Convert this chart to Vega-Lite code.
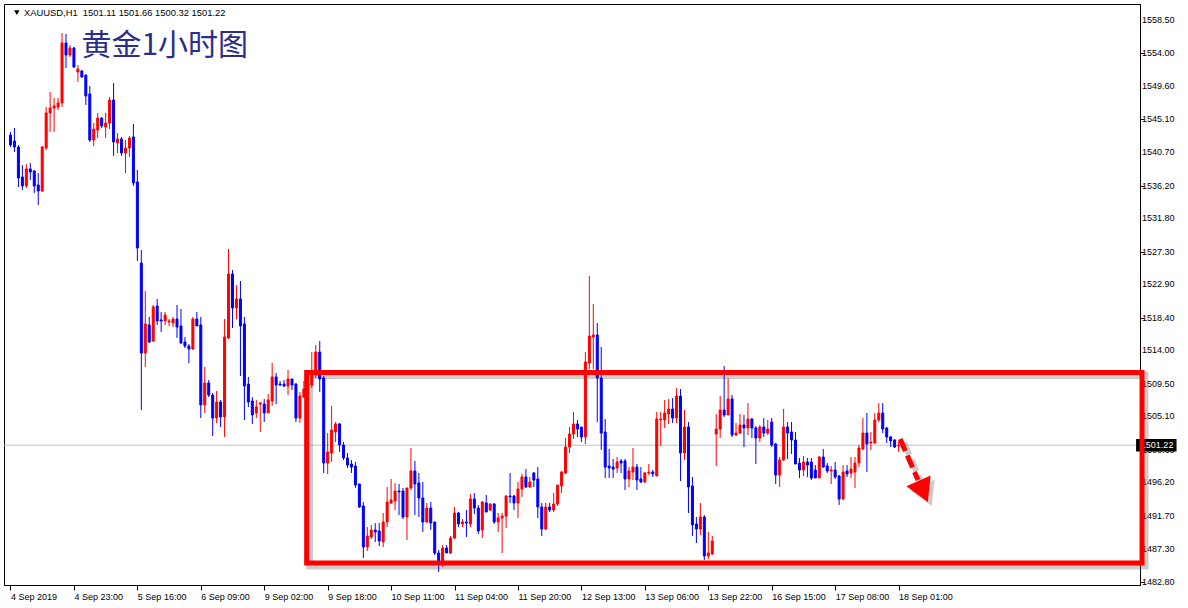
{
  "$schema": "https://vega.github.io/schema/vega-lite/v6.json",
  "width": 1136,
  "height": 581,
  "autosize": {"type": "none"},
  "padding": {"left": 4, "top": 4, "right": 48, "bottom": 23},
  "background": "#FFFFFF",
  "config": {
    "view": {"stroke": "#000000", "strokeWidth": 1},
    "axis": {"labelFont": "Liberation Sans", "labelFontSize": 9, "labelColor": "#000000", "tickColor": "#000000", "domainColor": "#000000", "grid": false}
  },
  "datasets": {
    "priceLabels": [
      {"v":1558.5},{"v":1554.0},{"v":1549.6},{"v":1545.1},{"v":1540.7},{"v":1536.2},{"v":1531.8},{"v":1527.3},{"v":1522.9},{"v":1518.4},{"v":1514.0},{"v":1509.5},{"v":1505.1},{"v":1500.6},{"v":1496.2},{"v":1491.7},{"v":1487.3},{"v":1482.8}
    ]
  },
  "data": {"values": [
    {"i":0,"o":1543.00,"h":1543.41,"l":1541.39,"c":1541.66},
    {"i":1,"o":1542.20,"h":1543.95,"l":1540.71,"c":1541.39},
    {"i":2,"o":1541.39,"h":1541.66,"l":1536.00,"c":1537.21},
    {"i":3,"o":1537.35,"h":1538.96,"l":1535.60,"c":1536.14},
    {"i":4,"o":1536.14,"h":1539.10,"l":1535.87,"c":1538.43},
    {"i":5,"o":1538.43,"h":1539.23,"l":1536.95,"c":1538.02},
    {"i":6,"o":1538.15,"h":1538.29,"l":1535.19,"c":1536.14},
    {"i":7,"o":1536.27,"h":1537.89,"l":1533.58,"c":1535.46},
    {"i":8,"o":1535.46,"h":1541.52,"l":1535.33,"c":1541.39},
    {"i":9,"o":1541.25,"h":1546.78,"l":1540.98,"c":1545.97},
    {"i":10,"o":1545.97,"h":1548.80,"l":1543.41,"c":1546.64},
    {"i":11,"o":1546.64,"h":1547.99,"l":1543.41,"c":1546.91},
    {"i":12,"o":1546.78,"h":1547.99,"l":1546.37,"c":1547.32},
    {"i":13,"o":1547.32,"h":1556.75,"l":1546.78,"c":1555.40},
    {"i":14,"o":1555.40,"h":1556.61,"l":1552.03,"c":1553.78},
    {"i":15,"o":1553.78,"h":1555.13,"l":1553.51,"c":1554.73},
    {"i":16,"o":1554.73,"h":1554.86,"l":1552.03,"c":1552.16},
    {"i":17,"o":1551.49,"h":1552.43,"l":1550.15,"c":1551.90},
    {"i":18,"o":1551.63,"h":1551.76,"l":1550.68,"c":1550.82},
    {"i":19,"o":1551.09,"h":1551.09,"l":1547.05,"c":1548.26},
    {"i":20,"o":1548.53,"h":1549.61,"l":1542.06,"c":1542.33},
    {"i":21,"o":1542.33,"h":1544.62,"l":1541.52,"c":1543.81},
    {"i":22,"o":1543.68,"h":1545.97,"l":1542.60,"c":1545.29},
    {"i":23,"o":1545.29,"h":1545.43,"l":1543.95,"c":1544.22},
    {"i":24,"o":1544.08,"h":1545.97,"l":1542.60,"c":1544.62},
    {"i":25,"o":1544.62,"h":1548.12,"l":1543.81,"c":1547.72},
    {"i":26,"o":1547.72,"h":1550.01,"l":1540.18,"c":1542.06},
    {"i":27,"o":1541.93,"h":1543.27,"l":1540.58,"c":1542.47},
    {"i":28,"o":1542.47,"h":1542.74,"l":1540.18,"c":1540.58},
    {"i":29,"o":1540.58,"h":1542.33,"l":1537.89,"c":1541.25},
    {"i":30,"o":1541.25,"h":1542.87,"l":1540.04,"c":1542.60},
    {"i":31,"o":1542.74,"h":1544.49,"l":1536.14,"c":1536.54},
    {"i":32,"o":1536.68,"h":1538.29,"l":1526.03,"c":1527.79},
    {"i":33,"o":1525.76,"h":1527.52,"l":1505.96,"c":1513.64},
    {"i":34,"o":1513.64,"h":1521.99,"l":1511.75,"c":1517.55},
    {"i":35,"o":1517.41,"h":1518.49,"l":1514.99,"c":1515.12},
    {"i":36,"o":1515.26,"h":1520.11,"l":1515.12,"c":1519.84},
    {"i":37,"o":1519.97,"h":1520.92,"l":1517.41,"c":1517.95},
    {"i":38,"o":1518.09,"h":1519.16,"l":1516.47,"c":1517.95},
    {"i":39,"o":1517.95,"h":1519.16,"l":1517.41,"c":1518.76},
    {"i":40,"o":1517.82,"h":1518.22,"l":1517.28,"c":1517.95},
    {"i":41,"o":1517.68,"h":1518.49,"l":1517.14,"c":1518.22},
    {"i":42,"o":1518.22,"h":1520.11,"l":1515.66,"c":1517.14},
    {"i":43,"o":1517.28,"h":1519.57,"l":1514.85,"c":1514.99},
    {"i":44,"o":1515.12,"h":1515.80,"l":1514.31,"c":1514.58},
    {"i":45,"o":1514.58,"h":1514.85,"l":1512.29,"c":1514.18},
    {"i":46,"o":1514.18,"h":1518.49,"l":1514.04,"c":1518.22},
    {"i":47,"o":1518.22,"h":1519.16,"l":1517.28,"c":1517.28},
    {"i":48,"o":1517.41,"h":1518.49,"l":1504.88,"c":1506.64},
    {"i":49,"o":1506.64,"h":1511.75,"l":1505.56,"c":1509.60},
    {"i":50,"o":1509.60,"h":1510.00,"l":1507.71,"c":1507.98},
    {"i":51,"o":1507.98,"h":1508.25,"l":1502.46,"c":1504.88},
    {"i":52,"o":1504.88,"h":1508.52,"l":1504.21,"c":1507.04},
    {"i":53,"o":1507.04,"h":1507.31,"l":1503.67,"c":1505.02},
    {"i":54,"o":1505.02,"h":1518.22,"l":1502.33,"c":1515.80},
    {"i":55,"o":1515.66,"h":1527.65,"l":1515.53,"c":1524.28},
    {"i":56,"o":1524.28,"h":1524.82,"l":1517.01,"c":1519.70},
    {"i":57,"o":1519.70,"h":1522.80,"l":1518.22,"c":1520.92},
    {"i":58,"o":1520.92,"h":1523.34,"l":1510.54,"c":1517.28},
    {"i":59,"o":1517.55,"h":1518.49,"l":1504.62,"c":1509.19},
    {"i":60,"o":1509.46,"h":1510.41,"l":1506.37,"c":1507.04},
    {"i":61,"o":1507.17,"h":1507.71,"l":1504.08,"c":1505.29},
    {"i":62,"o":1505.56,"h":1507.31,"l":1504.88,"c":1506.37},
    {"i":63,"o":1506.77,"h":1507.04,"l":1503.00,"c":1506.90},
    {"i":64,"o":1506.77,"h":1507.44,"l":1504.35,"c":1505.56},
    {"i":65,"o":1505.56,"h":1508.12,"l":1505.56,"c":1507.31},
    {"i":66,"o":1507.17,"h":1512.29,"l":1506.50,"c":1510.41},
    {"i":67,"o":1510.41,"h":1510.95,"l":1506.77,"c":1509.33},
    {"i":68,"o":1509.46,"h":1509.87,"l":1509.19,"c":1509.33},
    {"i":69,"o":1509.46,"h":1510.00,"l":1509.06,"c":1509.19},
    {"i":70,"o":1509.19,"h":1511.35,"l":1507.98,"c":1510.14},
    {"i":71,"o":1510.14,"h":1510.14,"l":1508.66,"c":1509.33},
    {"i":72,"o":1509.46,"h":1509.60,"l":1504.35,"c":1504.88},
    {"i":73,"o":1504.88,"h":1508.39,"l":1504.21,"c":1507.85},
    {"i":74,"o":1507.71,"h":1509.87,"l":1507.58,"c":1508.79},
    {"i":75,"o":1508.66,"h":1510.27,"l":1508.12,"c":1509.46},
    {"i":76,"o":1509.33,"h":1513.77,"l":1508.92,"c":1510.68},
    {"i":77,"o":1510.68,"h":1514.72,"l":1510.27,"c":1513.77},
    {"i":78,"o":1513.77,"h":1515.26,"l":1508.39,"c":1510.14},
    {"i":79,"o":1510.27,"h":1510.54,"l":1497.48,"c":1498.82},
    {"i":80,"o":1498.82,"h":1502.86,"l":1497.34,"c":1500.31},
    {"i":81,"o":1500.17,"h":1506.50,"l":1498.96,"c":1503.27},
    {"i":82,"o":1503.00,"h":1504.35,"l":1501.65,"c":1504.08},
    {"i":83,"o":1504.08,"h":1504.21,"l":1500.31,"c":1501.25},
    {"i":84,"o":1501.25,"h":1501.65,"l":1499.23,"c":1499.50},
    {"i":85,"o":1499.50,"h":1500.17,"l":1498.15,"c":1498.55},
    {"i":86,"o":1498.69,"h":1499.23,"l":1497.48,"c":1498.28},
    {"i":87,"o":1498.42,"h":1498.96,"l":1495.46,"c":1495.86},
    {"i":88,"o":1496.00,"h":1496.00,"l":1492.76,"c":1492.90},
    {"i":89,"o":1493.03,"h":1493.57,"l":1486.03,"c":1487.51},
    {"i":90,"o":1487.51,"h":1490.20,"l":1486.97,"c":1488.99},
    {"i":91,"o":1488.86,"h":1490.47,"l":1488.59,"c":1489.80},
    {"i":92,"o":1489.80,"h":1490.74,"l":1488.18,"c":1489.53},
    {"i":93,"o":1489.66,"h":1490.74,"l":1487.64,"c":1488.32},
    {"i":94,"o":1488.18,"h":1492.09,"l":1487.51,"c":1490.88},
    {"i":95,"o":1490.88,"h":1495.59,"l":1490.20,"c":1493.57},
    {"i":96,"o":1493.44,"h":1496.67,"l":1493.30,"c":1493.84},
    {"i":97,"o":1493.71,"h":1496.13,"l":1492.49,"c":1495.05},
    {"i":98,"o":1495.05,"h":1496.00,"l":1491.82,"c":1494.92},
    {"i":99,"o":1495.05,"h":1495.46,"l":1491.28,"c":1491.55},
    {"i":100,"o":1491.55,"h":1495.46,"l":1488.45,"c":1495.46},
    {"i":101,"o":1495.46,"h":1500.84,"l":1495.19,"c":1497.75},
    {"i":102,"o":1497.75,"h":1499.09,"l":1491.82,"c":1496.00},
    {"i":103,"o":1496.13,"h":1497.48,"l":1491.55,"c":1494.11},
    {"i":104,"o":1494.11,"h":1496.27,"l":1489.53,"c":1490.88},
    {"i":105,"o":1490.88,"h":1493.44,"l":1490.74,"c":1492.76},
    {"i":106,"o":1492.76,"h":1493.57,"l":1489.80,"c":1490.74},
    {"i":107,"o":1490.88,"h":1490.88,"l":1486.43,"c":1486.70},
    {"i":108,"o":1486.70,"h":1487.11,"l":1484.14,"c":1485.49},
    {"i":109,"o":1485.49,"h":1487.78,"l":1484.82,"c":1487.37},
    {"i":110,"o":1487.37,"h":1487.78,"l":1486.70,"c":1486.70},
    {"i":111,"o":1486.70,"h":1488.99,"l":1486.57,"c":1488.72},
    {"i":112,"o":1488.72,"h":1492.90,"l":1488.59,"c":1492.09},
    {"i":113,"o":1492.09,"h":1492.22,"l":1490.20,"c":1490.61},
    {"i":114,"o":1490.61,"h":1491.28,"l":1490.20,"c":1490.88},
    {"i":115,"o":1490.88,"h":1492.49,"l":1488.86,"c":1490.74},
    {"i":116,"o":1490.61,"h":1494.65,"l":1490.20,"c":1493.98},
    {"i":117,"o":1493.98,"h":1494.78,"l":1491.95,"c":1492.76},
    {"i":118,"o":1492.76,"h":1493.17,"l":1489.26,"c":1489.66},
    {"i":119,"o":1489.80,"h":1493.71,"l":1488.72,"c":1493.57},
    {"i":120,"o":1493.44,"h":1494.51,"l":1492.22,"c":1492.22},
    {"i":121,"o":1492.49,"h":1493.44,"l":1492.36,"c":1493.30},
    {"i":122,"o":1493.30,"h":1493.44,"l":1490.61,"c":1490.88},
    {"i":123,"o":1490.88,"h":1492.09,"l":1489.53,"c":1491.42},
    {"i":124,"o":1491.42,"h":1492.09,"l":1486.70,"c":1491.68},
    {"i":125,"o":1491.68,"h":1494.51,"l":1490.07,"c":1494.38},
    {"i":126,"o":1494.38,"h":1497.48,"l":1493.44,"c":1494.25},
    {"i":127,"o":1494.38,"h":1494.51,"l":1492.49,"c":1493.44},
    {"i":128,"o":1493.44,"h":1496.27,"l":1491.42,"c":1495.32},
    {"i":129,"o":1495.32,"h":1497.34,"l":1494.25,"c":1496.94},
    {"i":130,"o":1496.94,"h":1498.01,"l":1495.46,"c":1495.59},
    {"i":131,"o":1495.59,"h":1496.94,"l":1495.46,"c":1496.27},
    {"i":132,"o":1497.48,"h":1497.61,"l":1495.59,"c":1496.53},
    {"i":133,"o":1496.67,"h":1498.28,"l":1491.42,"c":1492.90},
    {"i":134,"o":1492.90,"h":1493.44,"l":1488.99,"c":1489.93},
    {"i":135,"o":1489.93,"h":1493.44,"l":1489.80,"c":1492.90},
    {"i":136,"o":1492.90,"h":1493.44,"l":1492.22,"c":1492.49},
    {"i":137,"o":1492.49,"h":1494.78,"l":1492.22,"c":1493.30},
    {"i":138,"o":1493.30,"h":1495.86,"l":1493.03,"c":1495.86},
    {"i":139,"o":1495.73,"h":1497.75,"l":1494.78,"c":1497.61},
    {"i":140,"o":1497.48,"h":1502.19,"l":1497.34,"c":1500.98},
    {"i":141,"o":1500.98,"h":1503.67,"l":1500.17,"c":1502.73},
    {"i":142,"o":1502.73,"h":1505.69,"l":1502.06,"c":1504.08},
    {"i":143,"o":1504.08,"h":1504.62,"l":1502.33,"c":1503.40},
    {"i":144,"o":1503.67,"h":1503.67,"l":1501.65,"c":1502.33},
    {"i":145,"o":1502.33,"h":1513.77,"l":1501.38,"c":1512.43},
    {"i":146,"o":1512.29,"h":1524.01,"l":1511.49,"c":1515.93},
    {"i":147,"o":1515.80,"h":1520.24,"l":1511.49,"c":1516.07},
    {"i":148,"o":1516.07,"h":1517.68,"l":1504.35,"c":1510.27},
    {"i":149,"o":1510.27,"h":1514.45,"l":1500.58,"c":1502.86},
    {"i":150,"o":1503.00,"h":1504.75,"l":1496.80,"c":1498.28},
    {"i":151,"o":1498.42,"h":1500.71,"l":1496.80,"c":1498.15},
    {"i":152,"o":1498.28,"h":1499.36,"l":1496.80,"c":1498.01},
    {"i":153,"o":1498.15,"h":1499.63,"l":1497.48,"c":1498.96},
    {"i":154,"o":1499.09,"h":1499.36,"l":1497.48,"c":1498.82},
    {"i":155,"o":1499.09,"h":1499.36,"l":1495.19,"c":1496.67},
    {"i":156,"o":1496.67,"h":1498.28,"l":1495.59,"c":1497.75},
    {"i":157,"o":1497.61,"h":1500.84,"l":1496.53,"c":1498.28},
    {"i":158,"o":1498.28,"h":1498.69,"l":1495.19,"c":1496.53},
    {"i":159,"o":1496.67,"h":1498.28,"l":1496.13,"c":1496.27},
    {"i":160,"o":1496.27,"h":1497.61,"l":1496.13,"c":1497.48},
    {"i":161,"o":1497.48,"h":1498.69,"l":1497.21,"c":1497.61},
    {"i":162,"o":1497.61,"h":1497.88,"l":1496.94,"c":1497.34},
    {"i":163,"o":1497.07,"h":1505.69,"l":1497.07,"c":1504.75},
    {"i":164,"o":1504.62,"h":1505.69,"l":1501.11,"c":1504.75},
    {"i":165,"o":1504.62,"h":1507.31,"l":1503.54,"c":1505.56},
    {"i":166,"o":1505.42,"h":1507.44,"l":1504.08,"c":1506.10},
    {"i":167,"o":1506.10,"h":1507.58,"l":1504.21,"c":1504.88},
    {"i":168,"o":1504.88,"h":1508.92,"l":1504.21,"c":1507.85},
    {"i":169,"o":1507.85,"h":1508.79,"l":1496.40,"c":1500.17},
    {"i":170,"o":1500.17,"h":1505.96,"l":1499.23,"c":1503.67},
    {"i":171,"o":1503.67,"h":1504.35,"l":1492.09,"c":1495.59},
    {"i":172,"o":1495.73,"h":1496.94,"l":1488.99,"c":1490.47},
    {"i":173,"o":1490.61,"h":1491.55,"l":1488.05,"c":1489.93},
    {"i":174,"o":1489.93,"h":1493.44,"l":1489.13,"c":1491.55},
    {"i":175,"o":1491.55,"h":1491.82,"l":1485.76,"c":1486.30},
    {"i":176,"o":1486.30,"h":1489.53,"l":1485.89,"c":1486.70},
    {"i":177,"o":1486.57,"h":1488.99,"l":1486.43,"c":1488.32},
    {"i":178,"o":1502.73,"h":1505.42,"l":1498.42,"c":1503.40},
    {"i":179,"o":1503.40,"h":1507.85,"l":1502.19,"c":1505.96},
    {"i":180,"o":1505.96,"h":1511.89,"l":1505.02,"c":1505.29},
    {"i":181,"o":1505.29,"h":1510.27,"l":1505.29,"c":1507.44},
    {"i":182,"o":1507.44,"h":1507.98,"l":1502.33,"c":1502.60},
    {"i":183,"o":1502.60,"h":1504.21,"l":1502.46,"c":1502.86},
    {"i":184,"o":1502.86,"h":1505.42,"l":1502.73,"c":1503.94},
    {"i":185,"o":1503.94,"h":1505.29,"l":1500.98,"c":1503.54},
    {"i":186,"o":1503.54,"h":1506.90,"l":1502.60,"c":1504.75},
    {"i":187,"o":1504.75,"h":1504.88,"l":1502.19,"c":1503.54},
    {"i":188,"o":1503.54,"h":1503.81,"l":1498.69,"c":1502.19},
    {"i":189,"o":1502.19,"h":1503.94,"l":1501.65,"c":1503.67},
    {"i":190,"o":1503.67,"h":1504.88,"l":1502.33,"c":1502.86},
    {"i":191,"o":1502.86,"h":1504.62,"l":1502.60,"c":1503.40},
    {"i":192,"o":1504.35,"h":1504.88,"l":1500.98,"c":1501.25},
    {"i":193,"o":1501.38,"h":1501.52,"l":1496.00,"c":1497.21},
    {"i":194,"o":1497.21,"h":1499.63,"l":1495.59,"c":1499.23},
    {"i":195,"o":1499.23,"h":1506.10,"l":1499.09,"c":1503.67},
    {"i":196,"o":1503.67,"h":1504.35,"l":1499.36,"c":1502.86},
    {"i":197,"o":1503.00,"h":1504.35,"l":1500.04,"c":1501.92},
    {"i":198,"o":1501.92,"h":1503.00,"l":1498.69,"c":1498.69},
    {"i":199,"o":1498.82,"h":1499.50,"l":1496.80,"c":1497.88},
    {"i":200,"o":1497.88,"h":1499.77,"l":1497.07,"c":1498.96},
    {"i":201,"o":1498.96,"h":1499.50,"l":1496.94,"c":1498.55},
    {"i":202,"o":1498.96,"h":1499.50,"l":1496.53,"c":1496.80},
    {"i":203,"o":1497.88,"h":1498.55,"l":1496.80,"c":1496.80},
    {"i":204,"o":1496.80,"h":1499.77,"l":1496.80,"c":1499.63},
    {"i":205,"o":1499.63,"h":1500.71,"l":1498.15,"c":1498.28},
    {"i":206,"o":1498.42,"h":1498.82,"l":1497.48,"c":1497.75},
    {"i":207,"o":1497.75,"h":1498.42,"l":1496.00,"c":1497.88},
    {"i":208,"o":1497.88,"h":1498.96,"l":1496.67,"c":1496.94},
    {"i":209,"o":1497.07,"h":1497.21,"l":1493.17,"c":1493.98},
    {"i":210,"o":1493.98,"h":1498.55,"l":1493.84,"c":1497.61},
    {"i":211,"o":1497.75,"h":1498.55,"l":1496.94,"c":1497.34},
    {"i":212,"o":1497.48,"h":1499.63,"l":1496.80,"c":1498.01},
    {"i":213,"o":1497.61,"h":1499.63,"l":1495.46,"c":1498.82},
    {"i":214,"o":1498.82,"h":1501.25,"l":1498.28,"c":1500.84},
    {"i":215,"o":1500.71,"h":1504.88,"l":1500.58,"c":1502.86},
    {"i":216,"o":1502.86,"h":1505.56,"l":1497.61,"c":1501.38},
    {"i":217,"o":1501.52,"h":1503.00,"l":1500.58,"c":1501.65},
    {"i":218,"o":1501.52,"h":1505.56,"l":1501.38,"c":1504.62},
    {"i":219,"o":1504.62,"h":1506.90,"l":1504.35,"c":1505.56},
    {"i":220,"o":1505.56,"h":1506.90,"l":1502.86,"c":1503.40},
    {"i":221,"o":1503.54,"h":1503.67,"l":1501.52,"c":1502.33},
    {"i":222,"o":1502.33,"h":1502.46,"l":1500.98,"c":1501.79},
    {"i":223,"o":1501.92,"h":1502.06,"l":1500.84,"c":1500.98},
    {"i":224,"o":1501.11,"h":1501.66,"l":1500.32,"c":1501.22}
  ]},
  "layer": [
    {
      "data": {"values": [{}]},
      "mark": {"type": "rule", "color": "#C0C0C0", "strokeWidth": 1},
      "encoding": {
        "y": {"datum": 1501.22, "type": "quantitative", "title": null, "scale": {"domain": [1482.39, 1560.65], "nice": false, "zero": false}}
      }
    },
    {
      "data": {"name": "priceLabels"},
      "mark": {"type": "text", "color": "#000000", "font": "Liberation Sans", "fontSize": 9, "align": "left", "baseline": "middle"},
      "encoding": {
        "x": {"datum": 285.4, "type": "quantitative", "title": null, "scale": {"domain": [-0.375, 283.625], "nice": false, "zero": false}},
        "y": {"field": "v", "type": "quantitative", "title": null, "scale": {"domain": [1482.39, 1560.65], "nice": false, "zero": false}},
        "text": {"field": "v", "type": "quantitative", "format": ".2f"}
      }
    },
    {
      "data": {"values": [{}]},
      "mark": {"type": "rect", "filled": false, "stroke": "#6E6E6E", "strokeOpacity": 0.35, "strokeWidth": 7},
      "encoding": {
        "x": {"datum": 75.45, "type": "quantitative", "title": null, "scale": {"domain": [-0.375, 283.625], "nice": false, "zero": false}},
        "x2": {"datum": 286.15},
        "y": {"datum": 1510.61, "type": "quantitative", "title": null, "scale": {"domain": [1482.39, 1560.65], "nice": false, "zero": false}},
        "y2": {"datum": 1484.95}
      }
    },
    {
      "mark": {"type": "rule", "strokeWidth": 1},
      "encoding": {
        "x": {"field": "i", "type": "quantitative", "title": null, "scale": {"domain": [-0.375, 283.625], "nice": false, "zero": false},
          "axis": {"orient": "bottom", "values": [0,16,32,48,64,80,96,112,128,144,160,176,192,208,224],
            "labelExpr": "['4 Sep 2019','4 Sep 23:00','5 Sep 16:00','6 Sep 09:00','9 Sep 02:00','9 Sep 18:00','10 Sep 11:00','11 Sep 04:00','11 Sep 20:00','12 Sep 13:00','13 Sep 06:00','13 Sep 22:00','16 Sep 15:00','17 Sep 08:00','18 Sep 01:00'][round(datum.value/16)]",
            "labelAlign": "left", "labelDx": -1, "labelBaseline": "top", "labelPadding": 2, "tickSize": 5, "labelOverlap": false, "labelFlush": false, "labelBound": false}},
        "y": {"field": "l", "type": "quantitative", "title": null, "scale": {"domain": [1482.39, 1560.65], "nice": false, "zero": false},
          "axis": {"orient": "right", "values": [1558.5,1554.0,1549.6,1545.1,1540.7,1536.2,1531.8,1527.3,1522.9,1518.4,1514.0,1509.5,1505.1,1500.6,1496.2,1491.7,1487.3,1482.8],
            "labels": false, "tickSize": 4}},
        "y2": {"field": "h"},
        "color": {"condition": {"test": "datum.c >= datum.o", "value": "#FF0000"}, "value": "#0000FF"}
      }
    },
    {
      "mark": {"type": "bar", "size": 2, "strokeWidth": 1, "opacity": 1},
      "encoding": {
        "x": {"field": "i", "type": "quantitative", "title": null, "scale": {"domain": [-0.375, 283.625], "nice": false, "zero": false}},
        "y": {"field": "o", "type": "quantitative", "title": null, "scale": {"domain": [1482.39, 1560.65], "nice": false, "zero": false}},
        "y2": {"field": "c"},
        "fill": {"condition": {"test": "datum.c >= datum.o", "value": "#FF0000"}, "value": "#0000FF"},
        "stroke": {"condition": {"test": "datum.c >= datum.o", "value": "#FF0000"}, "value": "#0000FF"}
      }
    },
    {
      "data": {"values": [{}]},
      "mark": {"type": "rect", "fill": "#000000"},
      "encoding": {
        "x": {"datum": 283.9, "type": "quantitative", "title": null, "scale": {"domain": [-0.375, 283.625], "nice": false, "zero": false}},
        "x2": {"datum": 294.1},
        "y": {"datum": 1502.05, "type": "quantitative", "title": null, "scale": {"domain": [1482.39, 1560.65], "nice": false, "zero": false}},
        "y2": {"datum": 1500.38}
      }
    },
    {
      "data": {"values": [{}]},
      "mark": {"type": "text", "text": "1501.22", "color": "#FFFFFF", "font": "Liberation Sans", "fontSize": 9, "align": "left", "baseline": "middle"},
      "encoding": {
        "x": {"datum": 285.1, "type": "quantitative", "title": null, "scale": {"domain": [-0.375, 283.625], "nice": false, "zero": false}},
        "y": {"datum": 1501.22, "type": "quantitative", "title": null, "scale": {"domain": [1482.39, 1560.65], "nice": false, "zero": false}}
      }
    },
    {
      "data": {"values": [{}]},
      "mark": {"type": "rect", "filled": false, "stroke": "#FF0000", "strokeWidth": 5},
      "encoding": {
        "x": {"datum": 74.7, "type": "quantitative", "title": null, "scale": {"domain": [-0.375, 283.625], "nice": false, "zero": false}},
        "x2": {"datum": 285.4},
        "y": {"datum": 1511.01, "type": "quantitative", "title": null, "scale": {"domain": [1482.39, 1560.65], "nice": false, "zero": false}},
        "y2": {"datum": 1485.35}
      }
    },
    {
      "data": {"values": [{"ax": 225.4, "ay": 1501.52}, {"ax": 229.9, "ay": 1495.99}]},
      "mark": {"type": "line", "stroke": "#6E6E6E", "strokeOpacity": 0.35, "strokeWidth": 6, "strokeDash": [13, 5], "strokeCap": "butt"},
      "encoding": {
        "x": {"field": "ax", "type": "quantitative", "title": null, "scale": {"domain": [-0.375, 283.625], "nice": false, "zero": false}},
        "y": {"field": "ay", "type": "quantitative", "title": null, "scale": {"domain": [1482.39, 1560.65], "nice": false, "zero": false}}
      }
    },
    {
      "data": {"values": [{}]},
      "mark": {"type": "point", "shape": "triangle-down", "filled": true, "color": "#6E6E6E", "opacity": 0.35, "size": 700, "angle": 336},
      "encoding": {
        "x": {"datum": 231.2, "type": "quantitative", "title": null, "scale": {"domain": [-0.375, 283.625], "nice": false, "zero": false}},
        "y": {"datum": 1494.45, "type": "quantitative", "title": null, "scale": {"domain": [1482.39, 1560.65], "nice": false, "zero": false}}
      }
    },
    {
      "data": {"values": [{"ax": 224.4, "ay": 1502.06}, {"ax": 228.9, "ay": 1496.53}]},
      "mark": {"type": "line", "stroke": "#FF0000", "strokeWidth": 5, "strokeDash": [13, 5], "strokeCap": "butt"},
      "encoding": {
        "x": {"field": "ax", "type": "quantitative", "title": null, "scale": {"domain": [-0.375, 283.625], "nice": false, "zero": false}},
        "y": {"field": "ay", "type": "quantitative", "title": null, "scale": {"domain": [1482.39, 1560.65], "nice": false, "zero": false}}
      }
    },
    {
      "data": {"values": [{}]},
      "mark": {"type": "point", "shape": "triangle-down", "filled": true, "color": "#FF0000", "opacity": 1, "size": 700, "angle": 336},
      "encoding": {
        "x": {"datum": 230.2, "type": "quantitative", "title": null, "scale": {"domain": [-0.375, 283.625], "nice": false, "zero": false}},
        "y": {"datum": 1494.99, "type": "quantitative", "title": null, "scale": {"domain": [1482.39, 1560.65], "nice": false, "zero": false}}
      }
    },
    {
      "data": {"values": [{}]},
      "mark": {"type": "point", "shape": "triangle-down", "filled": true, "color": "#000000", "opacity": 1, "size": 30},
      "encoding": {
        "x": {"datum": 1.6, "type": "quantitative", "title": null, "scale": {"domain": [-0.375, 283.625], "nice": false, "zero": false}},
        "y": {"datum": 1559.5, "type": "quantitative", "title": null, "scale": {"domain": [1482.39, 1560.65], "nice": false, "zero": false}}
      }
    },
    {
      "data": {"values": [{}]},
      "mark": {"type": "text", "text": "XAUUSD,H1\u00a0 1501.11 1501.66 1500.32 1501.22", "color": "#000000", "font": "Liberation Sans", "fontSize": 9.4, "align": "left", "baseline": "middle"},
      "encoding": {
        "x": {"datum": 3.4, "type": "quantitative", "title": null, "scale": {"domain": [-0.375, 283.625], "nice": false, "zero": false}},
        "y": {"datum": 1559.44, "type": "quantitative", "title": null, "scale": {"domain": [1482.39, 1560.65], "nice": false, "zero": false}}
      }
    },
    {
      "data": {"values": [{}]},
      "mark": {"type": "text", "text": "黄金1小时图", "color": "#2B2E8C", "font": "Noto Sans CJK SC", "fontSize": 30, "align": "left", "baseline": "middle"},
      "encoding": {
        "x": {"datum": 17.9, "type": "quantitative", "title": null, "scale": {"domain": [-0.375, 283.625], "nice": false, "zero": false}},
        "y": {"datum": 1554.99, "type": "quantitative", "title": null, "scale": {"domain": [1482.39, 1560.65], "nice": false, "zero": false}}
      }
    }
  ]
}
